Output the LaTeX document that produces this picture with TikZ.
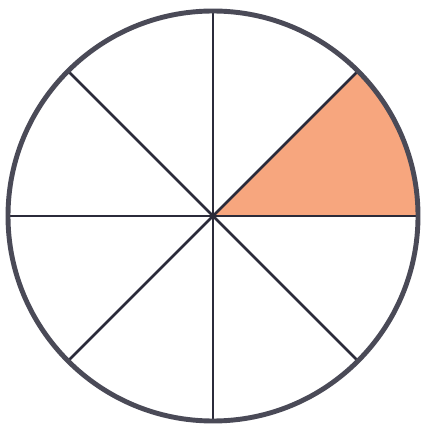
\documentclass[tikz,border=0pt]{standalone}
\usepackage{xcolor}
\definecolor{cRim}{HTML}{4A4A57}
\definecolor{cSpoke}{HTML}{2B2B3A}
\definecolor{cPart}{HTML}{F7A67E}
\tikzset{
  rim/.style={draw=cRim, line width=2.8pt},
  spoke/.style={draw=cSpoke, line width=1.6pt},
  part/.style={fill=cPart},
}
\begin{document}
\begin{tikzpicture}[x=0.02cm, y=-0.02cm]
\useasboundingbox (0,0) rectangle (422,428);
\coordinate (O) at (213,216);

% shaded eighth
\fill[part] (O) -- ++(0:205) arc[start angle=0, end angle=-45, radius=205] -- cycle;

% spokes
\foreach \a in {0,45,...,315} {
  \draw[spoke] (O) -- ++(\a:205);
}

% rim
\draw[rim] (O) circle[radius=205];
\end{tikzpicture}
\end{document}
